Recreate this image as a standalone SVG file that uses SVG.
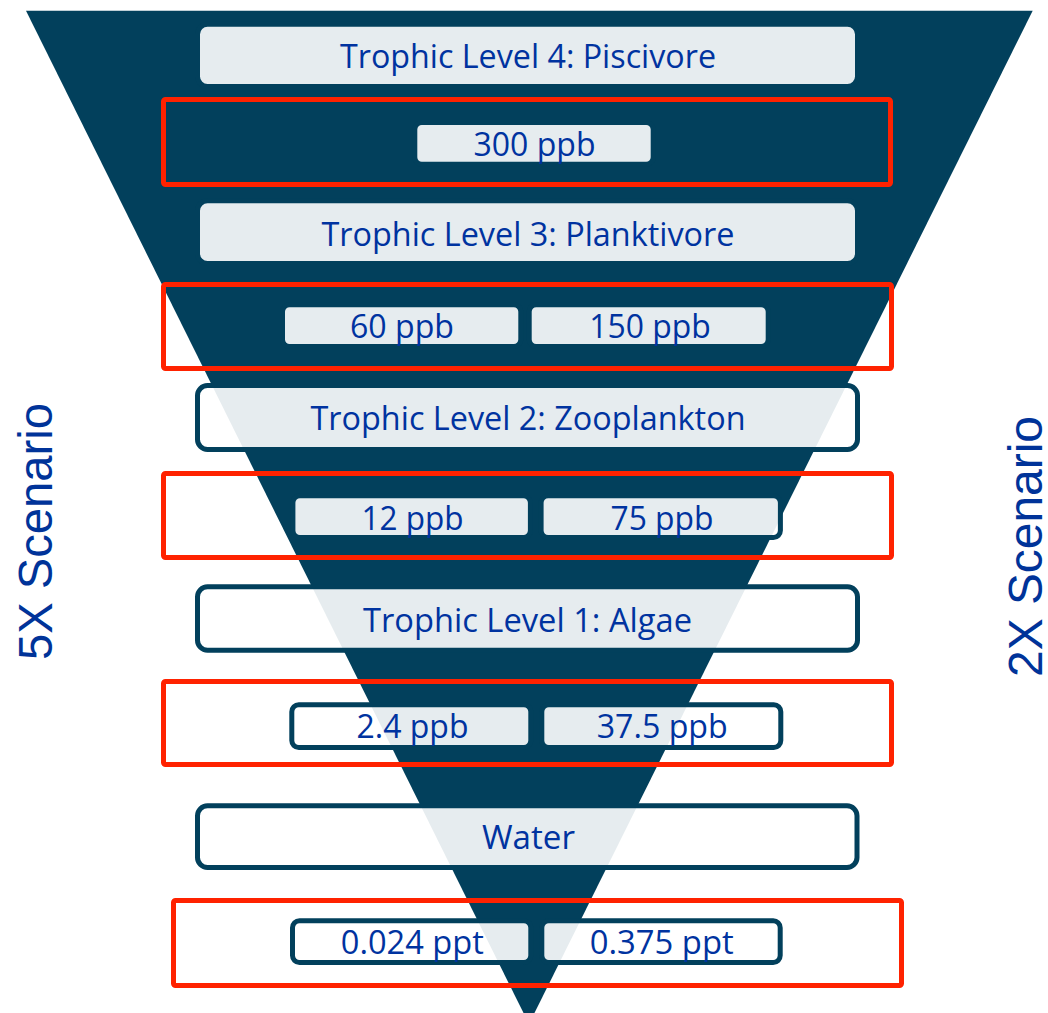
<svg xmlns="http://www.w3.org/2000/svg" width="1048" height="1013" viewBox="0 0 1048 1013">
  <style>
    .box { fill: #ffffff; fill-opacity: 0.9; stroke: #02405c; stroke-width: 5; }
    .frame { fill: none; stroke: #ff2200; stroke-width: 5; }
    .lbl { font-family: "Open Sans", "Liberation Sans", sans-serif; font-size: 33px; fill: #0033a0; text-anchor: middle; }
    .side { font-family: "Liberation Sans", Arial, sans-serif; font-size: 47.5px; fill: #003399; text-anchor: middle; }
  </style>

  <!-- inverted pyramid -->
  <polygon id="pyramid" points="26,10.7 1032.7,10.7 529,1024" fill="#02405c"/>

  <!-- scenario captions -->
  <text class="side" transform="translate(52,531.5) rotate(-90)" textLength="257" lengthAdjust="spacingAndGlyphs">5X Scenario</text>
  <text class="side" transform="translate(1042,546.5) rotate(-90)" textLength="261" lengthAdjust="spacingAndGlyphs">2X Scenario</text>

  <!-- concentration frames -->
  <g id="frames">
    <rect class="frame" x="163.5" y="99.5" width="727" height="85" rx="2"/>
    <rect class="frame" x="163.5" y="284.5" width="728" height="84" rx="2"/>
    <rect class="frame" x="163.5" y="473.5" width="728" height="84" rx="2"/>
    <rect class="frame" x="163.5" y="681.5" width="728" height="83" rx="2"/>
    <rect class="frame" x="173.5" y="900.5" width="728" height="85" rx="2"/>
  </g>

  <!-- trophic levels -->
  <g id="tl4">
    <rect class="box" x="197.5" y="24.2" width="660" height="62.3" rx="10"/>
    <text class="lbl" x="528" y="68" textLength="376" lengthAdjust="spacingAndGlyphs">Trophic Level 4: Piscivore</text>
  </g>
  <g id="v300">
    <rect class="box" x="414.8" y="122.5" width="238.4" height="41.7" rx="7"/>
    <text class="lbl" x="534.5" y="155.5" textLength="122" lengthAdjust="spacingAndGlyphs">300 ppb</text>
  </g>
  <g id="tl3">
    <rect class="box" x="197.5" y="200.8" width="660" height="62.7" rx="10"/>
    <text class="lbl" x="528" y="245.5" textLength="413" lengthAdjust="spacingAndGlyphs">Trophic Level 3: Planktivore</text>
  </g>
  <g id="v60">
    <rect class="box" x="282.5" y="304.8" width="238.3" height="41.7" rx="7"/>
    <text class="lbl" x="402" y="338.3" textLength="104" lengthAdjust="spacingAndGlyphs">60 ppb</text>
  </g>
  <g id="v150">
    <rect class="box" x="529.2" y="304.8" width="239" height="41.7" rx="7"/>
    <text class="lbl" x="650" y="338.3" textLength="121.5" lengthAdjust="spacingAndGlyphs">150 ppb</text>
  </g>
  <g id="tl2">
    <rect class="box" x="197.5" y="385.5" width="660" height="64" rx="10"/>
    <text class="lbl" x="528" y="430" textLength="435" lengthAdjust="spacingAndGlyphs">Trophic Level 2: Zooplankton</text>
  </g>
  <g id="v12">
    <rect class="box" x="292.9" y="495.8" width="237.5" height="41.7" rx="7"/>
    <text class="lbl" x="412.5" y="530" textLength="102" lengthAdjust="spacingAndGlyphs">12 ppb</text>
  </g>
  <g id="v75">
    <rect class="box" x="541.1" y="495.8" width="239.3" height="41.7" rx="7"/>
    <text class="lbl" x="662" y="530" textLength="103" lengthAdjust="spacingAndGlyphs">75 ppb</text>
  </g>
  <g id="tl1">
    <rect class="box" x="197.5" y="586.8" width="660" height="63.4" rx="10"/>
    <text class="lbl" x="527.5" y="631.7" textLength="329" lengthAdjust="spacingAndGlyphs">Trophic Level 1: Algae</text>
  </g>
  <g id="v2_4">
    <rect class="box" x="291.8" y="704.8" width="239" height="42.7" rx="7"/>
    <text class="lbl" x="412.5" y="737.5" textLength="112" lengthAdjust="spacingAndGlyphs">2.4 ppb</text>
  </g>
  <g id="v37_5">
    <rect class="box" x="541.8" y="704.8" width="239" height="42.7" rx="7"/>
    <text class="lbl" x="662.2" y="737.5" textLength="131" lengthAdjust="spacingAndGlyphs">37.5 ppb</text>
  </g>
  <g id="water">
    <rect class="box" x="197.5" y="805.8" width="659.5" height="61.7" rx="10"/>
    <text class="lbl" x="528.5" y="849.3" textLength="93" lengthAdjust="spacingAndGlyphs">Water</text>
  </g>
  <g id="v0_024">
    <rect class="box" x="292.5" y="920.8" width="238.3" height="41.7" rx="7"/>
    <text class="lbl" x="412.3" y="954.3" textLength="143" lengthAdjust="spacingAndGlyphs">0.024 ppt</text>
  </g>
  <g id="v0_375">
    <rect class="box" x="541.8" y="920.8" width="238.4" height="41.7" rx="7"/>
    <text class="lbl" x="661.7" y="954.3" textLength="144" lengthAdjust="spacingAndGlyphs">0.375 ppt</text>
  </g>

  <!-- no connectors in this figure -->
  <g id="connectors"/>
</svg>
